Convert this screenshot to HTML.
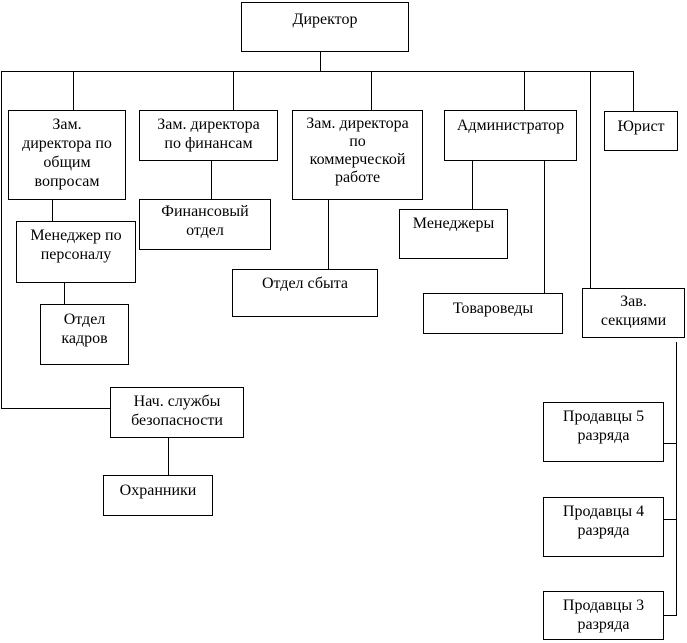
<!DOCTYPE html>
<html><head><meta charset="utf-8"><style>
body{margin:0;width:687px;height:643px;background:#fff;position:relative;overflow:hidden;font-family:"Liberation Serif","DejaVu Serif",serif;font-size:16px;color:#000}
.b{position:absolute;border:1px solid #000;box-sizing:border-box;text-align:center;line-height:19px;padding-top:6px;background:#fff;white-space:nowrap}
.h{position:absolute;height:1px;background:#000}
.v{position:absolute;width:1px;background:#000}
</style></head><body>
<div class="v" style="left:320px;top:51px;height:20px"></div>
<div class="h" style="left:1px;top:71px;width:633px"></div>
<div class="v" style="left:1px;top:71px;height:338px"></div>
<div class="h" style="left:1px;top:408px;width:110px"></div>
<div class="v" style="left:73px;top:71px;height:40px"></div>
<div class="v" style="left:233px;top:71px;height:40px"></div>
<div class="v" style="left:371px;top:71px;height:40px"></div>
<div class="v" style="left:524px;top:71px;height:40px"></div>
<div class="v" style="left:633px;top:71px;height:40px"></div>
<div class="v" style="left:590px;top:71px;height:218px"></div>
<div class="v" style="left:52px;top:199px;height:23px"></div>
<div class="v" style="left:64px;top:282px;height:23px"></div>
<div class="v" style="left:211px;top:160px;height:40px"></div>
<div class="v" style="left:328px;top:199px;height:71px"></div>
<div class="v" style="left:472px;top:160px;height:50px"></div>
<div class="v" style="left:544px;top:160px;height:134px"></div>
<div class="v" style="left:168px;top:437px;height:39px"></div>
<div class="v" style="left:676px;top:342px;height:274px"></div>
<div class="h" style="left:663px;top:443px;width:14px"></div>
<div class="h" style="left:663px;top:519px;width:14px"></div>
<div class="h" style="left:663px;top:615px;width:14px"></div>
<div class="b" style="left:241px;top:2px;width:168px;height:50px;padding-top:7px">Директор</div>
<div class="b" style="left:8px;top:110px;width:118px;height:90px;padding-top:4px">Зам.<br>директора по<br>общим<br>вопросам</div>
<div class="b" style="left:139px;top:110px;width:139px;height:51px;padding-top:4px">Зам. директора<br>по финансам</div>
<div class="b" style="left:292px;top:110px;width:131px;height:90px;padding-top:4px;line-height:18px">Зам. директора<br>по<br>коммерческой<br>работе</div>
<div class="b" style="left:444px;top:110px;width:133px;height:51px;padding-top:5px">Администратор</div>
<div class="b" style="left:604px;top:111px;width:74px;height:40px;padding-top:5px">Юрист</div>
<div class="b" style="left:16px;top:221px;width:120px;height:62px;padding-top:4px">Менеджер по<br>персоналу</div>
<div class="b" style="left:139px;top:199px;width:132px;height:51px;padding-top:2px">Финансовый<br>отдел</div>
<div class="b" style="left:232px;top:269px;width:146px;height:48px;padding-top:4px">Отдел сбыта</div>
<div class="b" style="left:399px;top:209px;width:109px;height:50px;padding-top:4px">Менеджеры</div>
<div class="b" style="left:423px;top:293px;width:140px;height:41px;padding-top:5px">Товароведы</div>
<div class="b" style="left:582px;top:288px;width:103px;height:50px;padding-top:3px">Зав.<br>секциями</div>
<div class="b" style="left:40px;top:304px;width:89px;height:61px;padding-top:5px">Отдел<br>кадров</div>
<div class="b" style="left:110px;top:387px;width:134px;height:51px;padding-top:4px">Нач. службы<br>безопасности</div>
<div class="b" style="left:103px;top:475px;width:110px;height:41px;padding-top:5px">Охранники</div>
<div class="b" style="left:543px;top:402px;width:121px;height:60px;padding-top:4px">Продавцы 5<br>разряда</div>
<div class="b" style="left:543px;top:497px;width:121px;height:60px;padding-top:4px">Продавцы 4<br>разряда</div>
<div class="b" style="left:543px;top:591px;width:121px;height:49px;padding-top:4px">Продавцы 3<br>разряда</div>
</body></html>
